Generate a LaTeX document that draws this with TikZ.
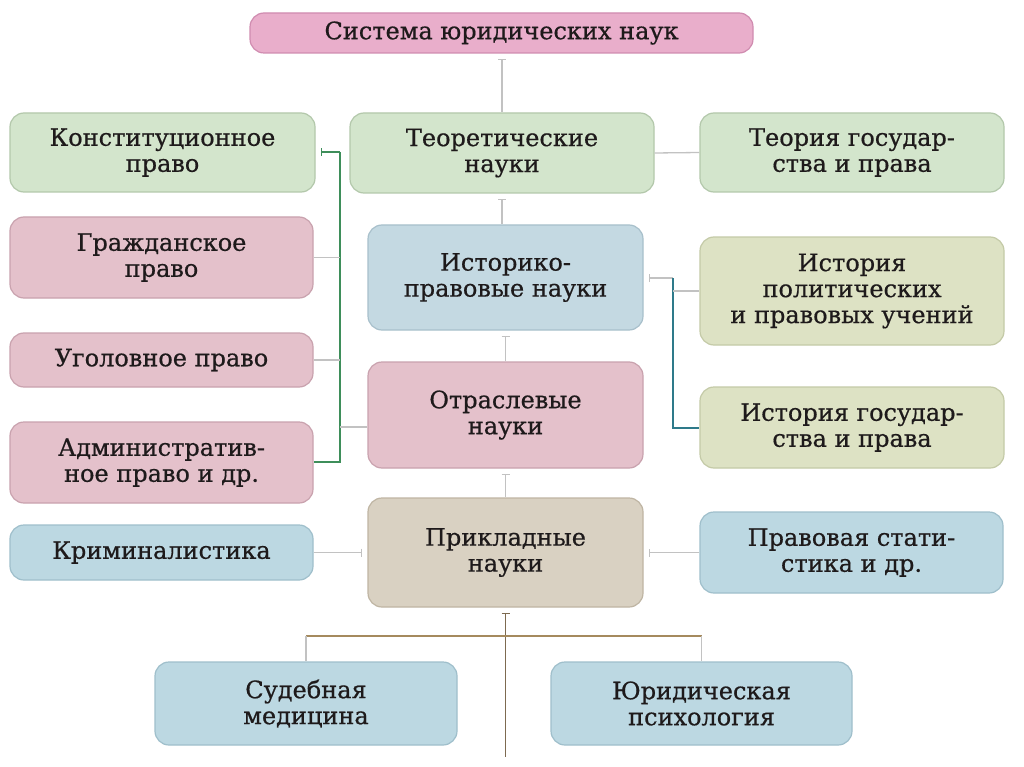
\documentclass[tikz,border=0pt]{standalone}
\usepackage{fontspec}
\setmainfont{DejaVu Serif}
\newfontfamily\boxfont{DejaVu Serif}[FakeBold=0.6]
\usetikzlibrary{arrows.meta}
\definecolor{txt}{HTML}{1E1A1B}
\definecolor{pinkF}{HTML}{E9AECB}\definecolor{pinkD}{HTML}{D08CB0}
\definecolor{greenF}{HTML}{D3E5CC}\definecolor{greenD}{HTML}{B3C8AB}
\definecolor{histF}{HTML}{C4D9E2}\definecolor{histD}{HTML}{A8C0CB}
\definecolor{roseF}{HTML}{E4C1CB}\definecolor{roseD}{HTML}{C9A2AE}
\definecolor{oliveF}{HTML}{DDE2C4}\definecolor{oliveD}{HTML}{C4CAA7}
\definecolor{beigeF}{HTML}{D9D1C2}\definecolor{beigeD}{HTML}{BFB5A3}
\definecolor{lblueF}{HTML}{BCD8E2}\definecolor{lblueD}{HTML}{9FBFCB}
\definecolor{lineG}{HTML}{C2C2C2}
\definecolor{brkGreen}{HTML}{3E8E5A}
\definecolor{brkTeal}{HTML}{2E7A8A}
\definecolor{brkBrown}{HTML}{A58A5E}
\definecolor{brkBrownD}{HTML}{7D6A50}
\tikzset{
  box/.style={rounded corners=14pt, line width=1.2pt, align=center, inner sep=0pt,
    text=txt, font=\boxfont\fontsize{24}{26}\selectfont},
  pinkbox/.style={box, fill=pinkF, draw=pinkD},
  greenbox/.style={box, fill=greenF, draw=greenD},
  histbox/.style={box, fill=histF, draw=histD},
  rosebox/.style={box, fill=roseF, draw=roseD},
  olivebox/.style={box, fill=oliveF, draw=oliveD},
  beigebox/.style={box, fill=beigeF, draw=beigeD},
  lbluebox/.style={box, fill=lblueF, draw=lblueD},
  conn/.style={draw=lineG, line width=1.3pt},
  tickstart/.style={{Bar[width=8pt,line width=1.2pt]}-, shorten <=5pt},
  tickend/.style={-{Bar[width=8pt,line width=1.2pt]}, shorten >=5pt},
  gbrk/.style={draw=brkGreen, line width=1.8pt},
  tbrk/.style={draw=brkTeal, line width=1.8pt},
  bbrk/.style={draw=brkBrown, line width=1.8pt},
}
\begin{document}
\begin{tikzpicture}[x=1pt,y=-1pt]
\useasboundingbox[fill=white] (0,0) rectangle (1024,767);

\node[pinkbox, minimum width=503pt, minimum height=40pt] (sys) at (501.5,33) {Система юридических наук};
\node[greenbox, minimum width=304pt, minimum height=80pt] (teor) at (502,153) {Теоретические\\науки};
\node[greenbox, minimum width=305pt, minimum height=79pt] (konst) at (162.5,152.5) {Конституционное\\право};
\node[greenbox, minimum width=304pt, minimum height=79pt] (teoria) at (852,152.5) {Теория государ-\\ства и права};
\node[histbox, minimum width=275pt, minimum height=105pt] (hist) at (505.5,277.5) {Историко-\\правовые науки};
\node[rosebox, minimum width=303pt, minimum height=81pt] (grazh) at (161.5,257.5) {Гражданское\\право};
\node[rosebox, minimum width=303pt, minimum height=54pt] (ugol) at (161.5,360) {Уголовное право};
\node[rosebox, minimum width=303pt, minimum height=81pt] (admin) at (161.5,462.5) {Административ-\\ное право и др.};
\node[rosebox, minimum width=275pt, minimum height=106pt] (otr) at (505.5,415) {Отраслевые\\науки};
\node[olivebox, minimum width=304pt, minimum height=108pt] (histpol) at (852,291) {История\\политических\\и правовых учений};
\node[olivebox, minimum width=304pt, minimum height=81pt] (histgos) at (852,427.5) {История государ-\\ства и права};
\node[beigebox, minimum width=275pt, minimum height=109pt] (prikl) at (505.5,552.5) {Прикладные\\науки};
\node[lbluebox, minimum width=303pt, minimum height=55pt] (krim) at (161.5,552.5) {Криминалистика};
\node[lbluebox, minimum width=303pt, minimum height=81pt] (pravstat) at (851.5,552.5) {Правовая стати-\\стика и др.};
\node[lbluebox, minimum width=302pt, minimum height=83pt] (sud) at (306,703.5) {Судебная\\медицина};
\node[lbluebox, minimum width=301pt, minimum height=83pt] (yur) at (701.5,703.5) {Юридическая\\психология};

% helper coordinates
\coordinate (gtop) at (340,152);
\coordinate (gbot) at (340,462);
\coordinate (otrY) at (0,427);
\coordinate (ttop) at (673,278);
\coordinate (tbot) at (673,428);
\coordinate (bar) at (0,636);
\coordinate (bot) at (505.5,757);

% central spine
\draw[conn, tickstart] (teor.north |- sys.south) -- (teor.north);
\draw[conn, tickstart] (teor.south) -- (teor.south |- hist.north);
\draw[conn, tickstart] (hist.south) -- (otr.north);
\draw[conn, tickstart] (otr.south) -- (prikl.north);
\draw[conn, draw=brkBrownD, tickstart] (prikl.south) -- (bot);

% theory
\draw[conn] (teor.east) -- (teoria.west);

% left green bracket
\draw[gbrk, tickstart] (konst.east |- gtop) -- (gtop);
\draw[gbrk] (gtop) -- (gbot) -- (admin.east |- gbot);
\draw[conn] (grazh.east) -- (grazh.east -| gtop);
\draw[conn] (ugol.east) -- (ugol.east -| gtop);
\draw[conn] (otr.west |- otrY) -- (gtop |- otrY);

% right teal bracket
\draw[conn, tickstart] (hist.east |- ttop) -- (ttop);
\draw[tbrk] (ttop) -- (tbot) -- (histgos.west |- tbot);
\draw[conn] (histpol.west) -- (histpol.west -| ttop);

% applied
\draw[conn, tickend] (krim.east) -- (prikl.west);
\draw[conn, tickend] (pravstat.west) -- (prikl.east);

% bottom bar
\draw[bbrk] (sud.north |- bar) -- (yur.north |- bar);
\draw[conn] (sud.north |- bar) -- (sud.north);
\draw[conn] (yur.north |- bar) -- (yur.north);
\end{tikzpicture}
\end{document}
